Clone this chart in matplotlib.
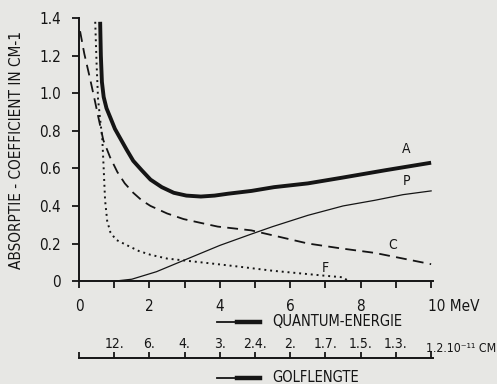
import matplotlib
matplotlib.use("Agg")
import matplotlib.pyplot as plt
from matplotlib.lines import Line2D

# curves (energy in MeV, coefficient in cm-1)
a_e = [0.60, 0.62, 0.65, 0.70, 0.78, 0.89, 1.02, 1.17, 1.35, 1.54, 1.78, 2.03, 2.35, 2.69, 3.05, 3.46, 3.85, 4.23, 4.9, 5.54, 6.5, 7.46, 8.7, 10.0]
a_y = [1.38, 1.20, 1.06, 0.98, 0.92, 0.87, 0.81, 0.76, 0.70, 0.64, 0.59, 0.54, 0.50, 0.47, 0.455, 0.45, 0.455, 0.465, 0.48, 0.50, 0.52, 0.55, 0.59, 0.63]

c_e = [0.03, 0.15, 0.31, 0.45, 0.54, 0.69, 0.88, 1.09, 1.30, 1.54, 1.78, 2.03, 2.5, 2.97, 3.45, 3.94, 4.89, 5.7, 6.5, 7.4, 8.4, 9.2, 10.0]
c_y = [1.33, 1.21, 1.08, 0.96, 0.88, 0.75, 0.66, 0.58, 0.52, 0.47, 0.43, 0.40, 0.36, 0.33, 0.31, 0.29, 0.27, 0.235, 0.20, 0.175, 0.15, 0.12, 0.09]

f_e = [0.46, 0.50, 0.54, 0.60, 0.66, 0.70, 0.74, 0.80, 0.89, 1.05, 1.37, 1.70, 2.03, 2.5, 2.97, 3.7, 4.4, 5.5, 6.9, 7.5, 7.65]
f_y = [1.38, 1.15, 0.97, 0.86, 0.76, 0.60, 0.43, 0.32, 0.26, 0.22, 0.19, 0.16, 0.14, 0.12, 0.11, 0.095, 0.08, 0.055, 0.03, 0.02, 0.0]

p_e = [1.02, 1.5, 2.2, 2.97, 4.0, 4.89, 5.5, 6.5, 7.5, 8.4, 9.2, 10.0]
p_y = [0.0, 0.01, 0.05, 0.11, 0.19, 0.25, 0.29, 0.35, 0.40, 0.43, 0.46, 0.48]

energy_ticks = list(range(0, 11))
energy_labels = ['0', '', '2', '', '4', '', '6', '', '8', '', '']
wave_labels = ['', '12.', '6.', '4.', '3.', '2.4.', '2.', '1.7.', '1.5.', '1.3.', '']
y_ticks = [0, 0.2, 0.4, 0.6, 0.8, 1.0, 1.2, 1.4]
y_labels = ['0', '0.2', '0.4', '0.6', '0.8', '1.0', '1.2', '1.4']

bg = '#e7e7e4'
ink = '#151515'
plt.rcParams['font.family'] = ['DejaVu Sans']
plt.rcParams['font.stretch'] = 'condensed'

fig = plt.figure(figsize=(4.97, 3.84), dpi=100, facecolor=bg)
ax = fig.add_axes([0.159, 0.268, 0.712, 0.685], facecolor=bg)

ax.plot(a_e, a_y, color=ink, lw=2.8, solid_capstyle='butt')
ax.plot(c_e, c_y, color=ink, lw=1.3, dashes=(6, 3.5))
ax.plot(f_e, f_y, color=ink, lw=1.4, dashes=(1.0, 2.0))
ax.plot(p_e, p_y, color=ink, lw=0.9)

ax.text(9.3, 0.68, 'A', fontsize=10, color=ink, ha='center')
ax.text(9.3, 0.51, 'P', fontsize=10, color=ink, ha='center')
ax.text(8.9, 0.17, 'C', fontsize=10, color=ink, ha='center')
ax.text(7.0, 0.05, 'F', fontsize=10, color=ink, ha='center')

ax.set_xlim(0, 10.05)
ax.set_ylim(0, 1.4)
for s in ['top', 'right']:
    ax.spines[s].set_visible(False)
for s in ['left', 'bottom']:
    ax.spines[s].set_linewidth(1.4)
    ax.spines[s].set_color(ink)
ax.set_xticks(energy_ticks)
ax.set_xticklabels(energy_labels, fontsize=11)
ax.set_yticks(y_ticks)
ax.set_yticklabels(y_labels, fontsize=11)
ax.tick_params(direction='out', length=5, width=1.3, colors=ink, pad=8)
ax.set_ylabel('ABSORPTIE - COEFFICIENT IN CM-1', fontsize=11, color=ink, labelpad=11)
ax.annotate('10 MeV', xy=(9.9, 0), xytext=(0, -13),
            textcoords='offset points', ha='left', va='top', fontsize=11, color=ink,
            annotation_clip=False)

# wavelength scale
ax2 = fig.add_axes([0.159, 0.0, 0.712, 0.068], facecolor='none')
ax2.set_xlim(0, 10.05)
ax2.set_ylim(0, 1)
for s in ['bottom', 'left', 'right']:
    ax2.spines[s].set_visible(False)
ax2.spines['top'].set_linewidth(1.4)
ax2.spines['top'].set_color(ink)
ax2.xaxis.tick_top()
ax2.set_yticks([])
ax2.set_xticks(energy_ticks)
ax2.set_xticklabels(wave_labels, fontsize=10)
ax2.tick_params(direction='out', length=4, width=1.3, colors=ink, pad=1)
ax2.annotate('1.2.10\u207b\u00b9\u00b9 CM', xy=(9.85, 1), xytext=(0, 2),
             textcoords='offset points', ha='left', va='bottom', fontsize=8.8, color=ink,
             annotation_clip=False)


def arrow_label(y, text):
    fig.add_artist(Line2D([217 / 497, 250 / 497], [y, y], color=ink, lw=1.3))
    fig.add_artist(Line2D([237 / 497, 260 / 497], [y, y], color=ink, lw=3.2))
    fig.text(272 / 497, y, text, fontsize=10.5, color=ink, va='center', ha='left')


arrow_label(1 - 322 / 384, 'QUANTUM-ENERGIE')
arrow_label(1 - 378 / 384, 'GOLFLENGTE')

fig.savefig('out.png', dpi=100, facecolor=bg)
